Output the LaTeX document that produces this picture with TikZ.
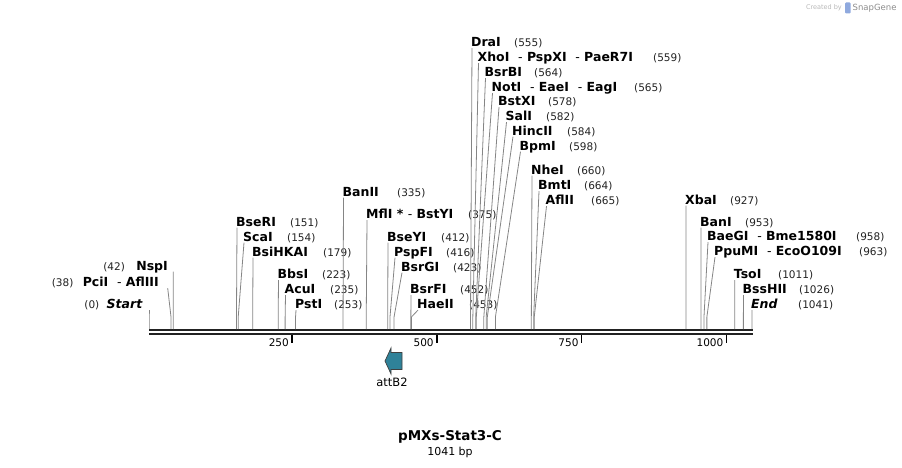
\documentclass[tikz,border=0pt]{standalone}
\usepackage{fontspec}
\setmainfont{DejaVu Sans}
\usetikzlibrary{positioning}
\definecolor{leadgray}{HTML}{858585}
\definecolor{attteal}{HTML}{2F8299}
\definecolor{lineblack}{HTML}{222222}
\newcommand{\hy}{\ \ {\mdseries -}\ }

\begin{document}
\begin{tikzpicture}[
x=1pt, y=-1pt,
enz/.style={font=\bfseries\fontsize{12.5}{14}\selectfont, inner sep=0pt, anchor=base west, text depth=0pt},
enzl/.style={enz, anchor=base east},
num/.style={font=\fontsize{10.5}{12}\selectfont, inner sep=0pt, anchor=base west, text=lineblack},
leader/.style={draw=leadgray, line width=0.8pt},
bbone/.style={draw=lineblack, line width=2.2pt},
tickmark/.style={draw=black, line width=1.5pt},
ticklbl/.style={font=\fontsize{10.5}{12}\selectfont, inner sep=0pt, anchor=base east}
]
\useasboundingbox (0,0) rectangle (902,468);

% cut sites on the backbone
\foreach \b in {0,38,42,151,154,179,223,235,253,335,375,412,416,423,452,453,555,559,564,565,578,582,584,598,660,664,665,927,953,958,963,1011,1026,1041}{
  \coordinate (s\b) at ({149+0.5793*\b},329);
  \coordinate (k\b) at ({149+0.5793*\b},317);
}

% Draw backbone
\coordinate (bbL) at (149,330);
\coordinate (bbR) at (752.5,330);
\draw[bbone] (bbL) -- (bbR);
\draw[bbone, line width=2pt] ([yshift=-4pt]bbL) -- ([yshift=-4pt]bbR);

% ticks
\foreach \t in {250,500,750,1000}{
  \coordinate (t\t) at ({149+0.5793*\t-1.8},335);
  \draw[tickmark] (t\t) -- ++(0,7.5);
  \node[ticklbl] (tl\t) at ([xshift=-3pt,yshift=-11pt]t\t) {\t};
}

% left labels
\node[enzl, font=\bfseries\itshape\fontsize{12.5}{14}\selectfont] (start) at (142.5,308.9) {Start};
\node[num, anchor=base east, base left=7pt of start] (nstart) {(0)};
\node[enzl] (pcii) at (159,286.9) {PciI\hy AflIII};
\node[num, anchor=base east, base left=9pt of pcii] (npcii) {(38)};
\node[enzl] (nspi) at (168,270.4) {NspI};
\node[num, anchor=base east, base left=11pt of nspi] (nnspi) {(42)};

\draw[leader] (s0) -- (k0) -- ([shift={(6.5pt,-1.2pt)}]start.base east);
\draw[leader] (s38) -- (k38) -- ([shift={(8.7pt,-1.2pt)}]pcii.base east);
\draw[leader] (s42) -- (k42) -- ([shift={(5.3pt,-1.2pt)}]nspi.base east);

% right labels: id/name/x/baseline/number x/site
\foreach \id/\txt/\nx/\by/\numx/\bp in {
  bseri/BseRI/236/226.4/290/151,
  scai/ScaI/243/241.4/287/154,
  bsihkai/BsiHKAI/252/256.4/323/179,
  bbsi/BbsI/277.5/278.9/322/223,
  acui/AcuI/284.5/293.9/330/235,
  psti/PstI/295/308.9/334/253,
  banii/BanII/342.5/196.4/397/335,
  mfli/{MflI * {\mdseries -} BstYI}/366/218.9/468/375,
  bseyi/BseYI/387/241.4/441/412,
  pspfi/PspFI/394/256.4/446/416,
  bsrgi/BsrGI/401/271.4/453/423,
  bsrfi/BsrFI/410/293.9/460/452,
  haeii/HaeII/417/308.9/469/453,
  drai/DraI/471/46.9/514/555,
  xhoi/{XhoI\hy PspXI\hy PaeR7I}/477.5/61.9/653/559,
  bsrbi/BsrBI/484.5/76.9/534/564,
  noti/{NotI\hy EaeI\hy EagI}/491.5/91.9/634/565,
  bstxi/BstXI/498/105.9/548/578,
  sali/SalI/505.5/120.9/546/582,
  hincii/HincII/512/135.4/567/584,
  bpmi/BpmI/519.5/150.4/569/598,
  nhei/NheI/531/174.4/577/660,
  bmti/BmtI/538/189.9/584/664,
  aflii/AflII/545.5/204.9/591/665,
  xbai/XbaI/685/204.4/730/927,
  bani/BanI/700/226.4/745/953,
  baegi/{BaeGI\hy Bme1580I}/707/240.9/856/958,
  ppumi/{PpuMI\hy EcoO109I}/714/255.9/859/963,
  tsoi/TsoI/733.7/278.9/778/1011,
  bsshii/BssHII/742.5/293.9/799/1026}{
  \node[enz] (\id) at (\nx,\by) {\txt};
  \node[num] (n\id) at (\numx,\by) {(\bp)};
  \draw[leader] (s\bp) -- (k\bp) -- ([shift={(1pt,-1.2pt)}]\id.base west);
}
\node[enz, font=\bfseries\itshape\fontsize{12.5}{14}\selectfont] (endl) at (751,308.9) {End};
\node[num] (nendl) at (798,308.9) {(1041)};
\draw[leader] (s1041) -- (k1041) -- ([shift={(1pt,-1.2pt)}]endl.base west);

% feature
\draw[fill=attteal, draw=black!75, line width=0.7pt]
  (385,361) -- (391,348) -- (391,352.5) -- (402,352.5) -- (402,369.5)
  -- (391,369.5) -- (391,374) -- cycle;
\node[font=\fontsize{11.5}{13}\selectfont, inner sep=0pt] (attb) at (392,382) {attB2};

% title
\node[font=\bfseries\fontsize{13.5}{15}\selectfont, inner sep=0pt] (title) at (450,437) {pMXs-Stat3-C};
\node[font=\fontsize{11}{13}\selectfont, inner sep=0pt] (len) at (450,452) {1041 bp};

% watermark
\node[font=\fontsize{6.5}{7}\selectfont, text=black!28, inner sep=0pt, anchor=east] (made) at (842,8) {Created by};
\fill[cyan!45!blue!45, rounded corners=1pt] (845,2.5) rectangle (850.5,13.5);
\node[font=\fontsize{8.5}{10}\selectfont, text=black!45, inner sep=0pt, anchor=west] (sg) at (852.5,8) {SnapGene};
\end{tikzpicture}
\end{document}
